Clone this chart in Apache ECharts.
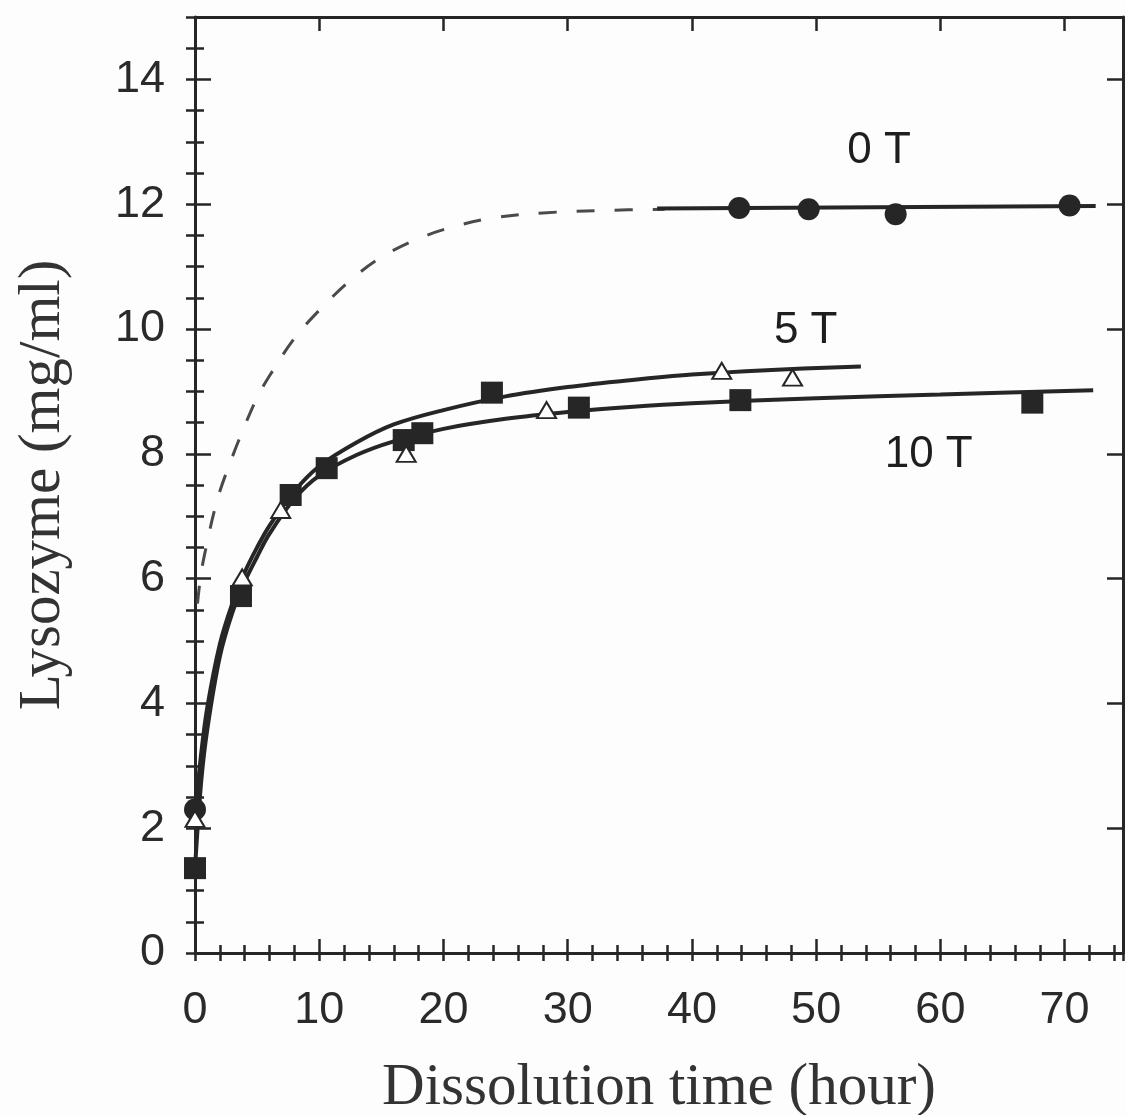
<!DOCTYPE html>
<html>
<head>
<meta charset="utf-8">
<script src="https://cdn.jsdelivr.net/npm/echarts@6/dist/echarts.min.js"></script>
<style>
html, body { margin: 0; padding: 0; background: #fdfdfd; }
#main { width: 1126px; height: 1115px; }
</style>
</head>
<body>
<div id="main"></div>
<script>
// data: [time (hour), lysozyme (mg/ml)]
var pts0T = [[0, 2.3], [43.8, 11.94], [49.4, 11.92], [56.4, 11.84], [70.4, 11.98]];
var pts5T = [[0, 2.15], [3.8, 6.02], [6.9, 7.1], [17.0, 8.0], [28.3, 8.7], [42.4, 9.33], [48.1, 9.22]];
var pts10T = [[0, 1.36], [3.7, 5.72], [7.7, 7.34], [10.6, 7.77], [16.8, 8.22], [18.3, 8.33],
              [23.9, 8.98], [30.9, 8.74], [43.9, 8.86], [67.4, 8.82]];

// fitted curves
var fit0Tdash = [[0.2, 5.6], [0.5, 6.1], [1, 6.6], [1.5, 7.04], [2, 7.4], [3, 7.95], [4, 8.45],
                 [5, 8.9], [6, 9.25], [8, 9.85], [10, 10.3], [12.5, 10.78], [15, 11.15],
                 [18, 11.45], [21, 11.65], [24, 11.78], [28, 11.86], [33, 11.9], [37.8, 11.92]];
var fit0T = [[37.2, 11.93], [72.5, 11.97]];
var fit5T = [[0, 2.2], [0.5, 3.2], [1, 3.95], [2, 4.95], [3, 5.6], [4, 6.1], [5, 6.5], [6, 6.85],
             [8, 7.4], [10, 7.8], [13, 8.18], [16, 8.47], [20, 8.7], [25, 8.92], [30, 9.07],
             [35, 9.18], [40, 9.27], [46, 9.34], [53.6, 9.4]];
var fit10T = [[0, 1.36], [0.5, 2.75], [1, 3.6], [2, 4.75], [3, 5.45], [4, 5.95], [5, 6.35],
              [6, 6.72], [8, 7.28], [10, 7.65], [13, 7.98], [16, 8.2], [20, 8.4], [25, 8.56],
              [30, 8.67], [35, 8.75], [40, 8.81], [50, 8.89], [60, 8.95], [72.3, 9.02]];

var curveLabels = [
    {name: '0 T', value: [55.1, 12.85]},
    {name: '5 T', value: [49.2, 9.97]},
    {name: '10 T', value: [59.1, 7.98]}
];

var xMin = 0, xMax = 74.7, yMin = 0, yMax = 15;
var ink = '#262626';
var sans = 'Liberation Sans, Arial, Helvetica, sans-serif';
var serif = 'Liberation Serif, Times New Roman, serif';

function tickAxis(grid, pos, interval, len, extra) {
    var a = {
        gridIndex: grid, position: pos, type: 'value',
        interval: interval,
        axisLine: {show: false},
        axisTick: {show: true, inside: true, length: len, lineStyle: {color: ink, width: 2.5}},
        axisLabel: {show: false},
        splitLine: {show: false}
    };
    for (var k in extra) a[k] = extra[k];
    return a;
}

var frame = {show: true, onZero: false, lineStyle: {color: ink, width: 3}};

var myChart = echarts.init(document.getElementById('main'));
var option = {
    backgroundColor: '#fdfdfd',
    animation: false,
    grid: [
        {left: 195, right: 3, top: 17, bottom: 162, outerBoundsMode: 'none', containLabel: false},
        {left: 195, right: 3, top: 17, bottom: 162, outerBoundsMode: 'none', containLabel: false}
    ],
    xAxis: [
        tickAxis(0, 'bottom', 10, 14, {
            min: xMin, max: xMax,
            axisLine: frame,
            axisLabel: {
                show: true, fontSize: 45, fontFamily: sans, color: '#2a2a2a', margin: 35,
                formatter: function (v) { return v % 10 === 0 ? v : ''; }
            },
            name: 'Dissolution time (hour)',
            nameLocation: 'middle',
            nameGap: 106,
            nameTextStyle: {fontSize: 59, fontFamily: serif, color: '#333'}
        }),
        tickAxis(0, 'top', 10, 14, {min: xMin, max: xMax, axisLine: frame}),
        tickAxis(1, 'bottom', 2, 8, {min: xMin, max: xMax}),
        tickAxis(1, 'top', 2, 8, {min: xMin, max: xMax})
    ],
    yAxis: [
        tickAxis(0, 'left', 2, 16, {
            min: yMin, max: yMax,
            axisLine: frame,
            axisLabel: {
                show: true, fontSize: 45, fontFamily: sans, color: '#2a2a2a', margin: 30,
                formatter: function (v) { return v % 2 === 0 ? v : ''; }
            },
            name: 'Lysozyme (mg/ml)',
            nameLocation: 'middle',
            nameGap: 122,
            nameTextStyle: {fontSize: 59, fontFamily: serif, color: '#333'}
        }),
        tickAxis(0, 'right', 2, 16, {min: yMin, max: yMax, axisLine: frame}),
        tickAxis(1, 'left', 0.5, 9, {min: yMin, max: yMax}),
        tickAxis(1, 'right', 0.5, 9, {min: yMin, max: yMax})
    ],
    series: [
        {
            type: 'line', data: fit0Tdash, smooth: 0.35, showSymbol: false,
            lineStyle: {color: '#4a4a4a', width: 3, type: [18, 20]}
        },
        {
            type: 'line', data: fit0T, showSymbol: false,
            lineStyle: {color: ink, width: 4}
        },
        {
            type: 'line', data: fit5T, smooth: 0.35, showSymbol: false,
            lineStyle: {color: ink, width: 4}
        },
        {
            type: 'line', data: fit10T, smooth: 0.35, showSymbol: false,
            lineStyle: {color: ink, width: 4}
        },
        {
            type: 'scatter', data: pts10T, symbol: 'rect', symbolSize: 22,
            itemStyle: {color: ink, opacity: 1}, z: 5
        },
        {
            type: 'scatter', data: pts5T, symbol: 'triangle', symbolSize: [19, 16],
            itemStyle: {color: '#fff', borderColor: ink, borderWidth: 2, opacity: 1}, z: 6
        },
        {
            type: 'scatter', data: pts0T, symbol: 'circle', symbolSize: 22,
            itemStyle: {color: ink, opacity: 1}, z: 5
        },
        {
            type: 'scatter', data: curveLabels, symbolSize: 1, silent: true,
            itemStyle: {color: 'rgba(0,0,0,0)', opacity: 1},
            label: {
                show: true, position: [0, 0], align: 'center', verticalAlign: 'middle',
                formatter: '{b}', fontSize: 44, fontFamily: sans, color: '#1e1e1e'
            }
        }
    ]
};

myChart.setOption(option);
</script>
</body>
</html>
